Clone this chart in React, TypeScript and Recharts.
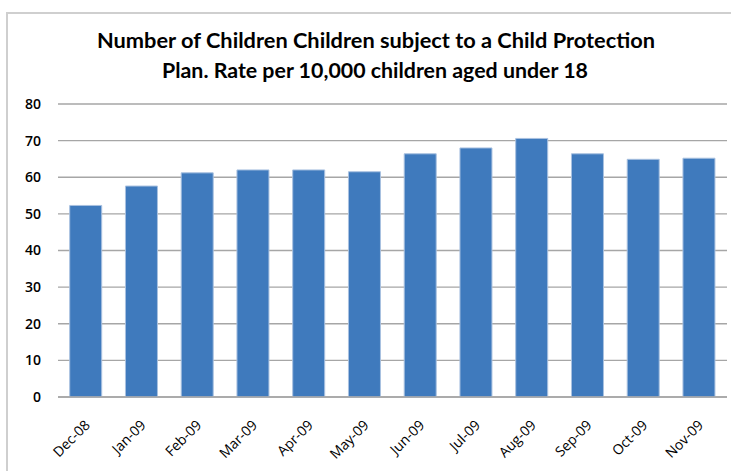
import { BarChart, Bar, XAxis, YAxis, CartesianGrid } from 'recharts';

const months = [
  'Dec-08', 'Jan-09', 'Feb-09', 'Mar-09', 'Apr-09', 'May-09',
  'Jun-09', 'Jul-09', 'Aug-09', 'Sep-09', 'Oct-09', 'Nov-09',
];
const ratePer10k = [52.3, 57.6, 61.2, 62.0, 62.0, 61.5, 66.4, 68.0, 70.6, 66.4, 64.9, 65.2];
const yTicks = [0, 10, 20, 30, 40, 50, 60, 70, 80];
const titleLines = [
  'Number of Children Children subject to a Child Protection',
  'Plan. Rate per 10,000 children aged under 18',
];

const data = months.map((month, i) => ({ month, rate: ratePer10k[i] }));

const labelFont = '"Open Sans", "DejaVu Sans", sans-serif';

function MonthTick({ x, y, payload }: { x: number; y: number; payload: { value: string } }) {
  return (
    <g transform={`translate(${x + 5},${y + 27})`}>
      <text
        textAnchor="end"
        transform="rotate(-45)"
        fill="#000"
        fontSize={14}
        fontWeight={500}
        fontFamily={labelFont}
      >
        {payload.value}
      </text>
    </g>
  );
}

export default function App() {
  return (
    <div
      style={{
        position: 'absolute',
        left: 0,
        top: 0,
        width: 731,
        height: 471,
        background: '#fff',
        overflow: 'hidden',
      }}
    >
      {/* chart frame, cut off on the right and bottom */}
      <div
        style={{
          position: 'absolute',
          left: 6,
          top: 12,
          width: 760,
          height: 500,
          border: '2px solid #cfcfcf',
        }}
      />
      <BarChart
        width={731}
        height={471}
        data={data}
        margin={{ top: 104, right: 4, left: 0, bottom: 0 }}
        barCategoryGap="21%"
        style={{ position: 'absolute', left: 0, top: 0 }}
      >
        <CartesianGrid vertical={false} stroke="#a6a6a6" strokeWidth={1.3} />
        <XAxis
          dataKey="month"
          height={74}
          interval={0}
          tickLine={false}
          tickSize={0}
          axisLine={{ stroke: '#a6a6a6', strokeWidth: 1.3 }}
          tick={MonthTick}
        />
        <YAxis
          width={58}
          domain={[0, 80]}
          ticks={yTicks}
          axisLine={false}
          tickLine={false}
          tickSize={0}
          tickMargin={17}
          tick={{ fill: '#000', fontSize: 14, fontWeight: 600, fontFamily: labelFont }}
        />
        <Bar
          dataKey="rate"
          fill="#3f7abd"
          stroke="#a9c1e0"
          strokeWidth={1}
          isAnimationActive={false}
        />
      </BarChart>
      <svg
        width={731}
        height={100}
        style={{ position: 'absolute', left: 0, top: 0 }}
      >
        <text
          x={376}
          y={48}
          textAnchor="middle"
          fontFamily='Lato, "Open Sans", sans-serif'
          fontWeight={700}
          fontSize={20}
          textLength={558}
          lengthAdjust="spacingAndGlyphs"
          fill="#000"
        >
          {titleLines[0]}
        </text>
        <text
          x={375}
          y={78}
          textAnchor="middle"
          fontFamily='Lato, "Open Sans", sans-serif'
          fontWeight={700}
          fontSize={20}
          textLength={426}
          lengthAdjust="spacingAndGlyphs"
          fill="#000"
        >
          {titleLines[1]}
        </text>
      </svg>
    </div>
  );
}
